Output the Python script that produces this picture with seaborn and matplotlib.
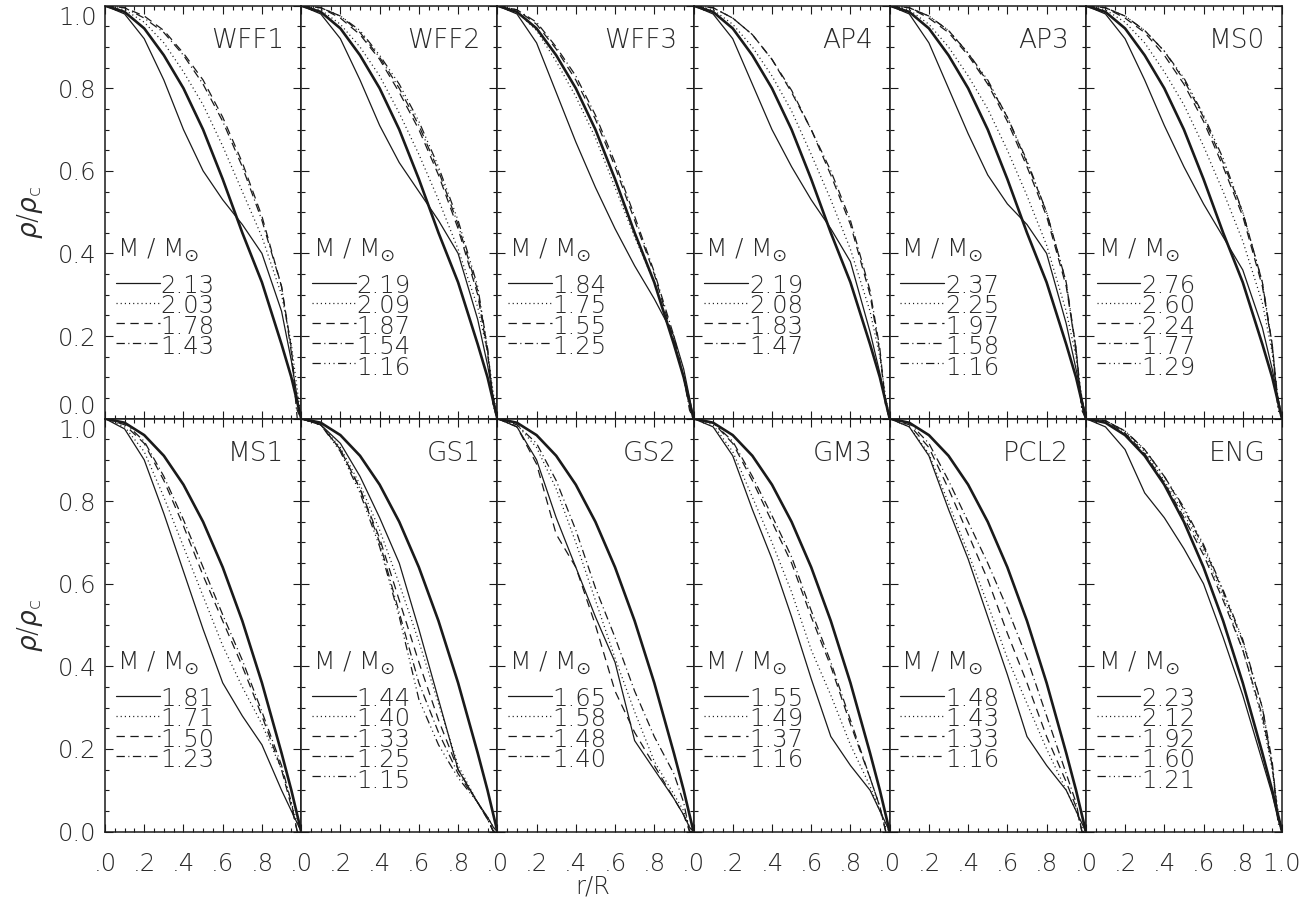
import matplotlib
matplotlib.use("Agg")
import seaborn as sns
from matplotlib import pyplot as plt
from matplotlib.ticker import MultipleLocator, FuncFormatter

# radial grid r/R shared by every curve
R = [0.0, 0.1, 0.2, 0.3, 0.4, 0.5, 0.6, 0.7, 0.8, 0.9, 0.95, 0.98, 1.0]

# heavy reference curves
ref_top = [1.0, 0.985, 0.945, 0.88, 0.80, 0.70, 0.58, 0.45, 0.33, 0.18, 0.10, 0.04, 0.0]
ref_bottom = [1.0, 0.99, 0.96, 0.91, 0.84, 0.75, 0.64, 0.51, 0.36, 0.19, 0.10, 0.04, 0.0]

wff1_mass = ["2.13", "2.03", "1.78", "1.43"]
wff1_rho = [
    [1.0, 0.98, 0.92, 0.82, 0.70, 0.60, 0.53, 0.47, 0.40, 0.26, 0.14, 0.05, 0.0],
    [1.0, 0.99, 0.96, 0.91, 0.84, 0.76, 0.66, 0.55, 0.44, 0.30, 0.18, 0.07, 0.0],
    [1.0, 0.995, 0.975, 0.94, 0.885, 0.82, 0.73, 0.62, 0.49, 0.32, 0.17, 0.02, 0.0],
    [1.0, 0.995, 0.97, 0.935, 0.88, 0.81, 0.72, 0.61, 0.48, 0.32, 0.16, 0.0, 0.0],
]

wff2_mass = ["2.19", "2.09", "1.87", "1.54", "1.16"]
wff2_rho = [
    [1.0, 0.98, 0.92, 0.82, 0.71, 0.62, 0.55, 0.48, 0.40, 0.24, 0.13, 0.05, 0.0],
    [1.0, 0.99, 0.955, 0.90, 0.83, 0.74, 0.64, 0.53, 0.41, 0.27, 0.16, 0.06, 0.0],
    [1.0, 0.995, 0.97, 0.93, 0.87, 0.79, 0.70, 0.59, 0.46, 0.30, 0.16, 0.03, 0.0],
    [1.0, 0.995, 0.975, 0.935, 0.875, 0.80, 0.71, 0.60, 0.47, 0.31, 0.17, 0.04, 0.0],
    [1.0, 0.995, 0.975, 0.94, 0.88, 0.81, 0.72, 0.61, 0.48, 0.32, 0.17, 0.03, 0.0],
]

wff3_mass = ["1.84", "1.75", "1.55", "1.25"]
wff3_rho = [
    [1.0, 0.98, 0.91, 0.79, 0.67, 0.56, 0.46, 0.37, 0.29, 0.20, 0.12, 0.05, 0.0],
    [1.0, 0.985, 0.94, 0.865, 0.78, 0.68, 0.56, 0.44, 0.33, 0.19, 0.10, 0.04, 0.0],
    [1.0, 0.99, 0.955, 0.895, 0.82, 0.725, 0.61, 0.48, 0.35, 0.19, 0.10, 0.03, 0.0],
    [1.0, 0.99, 0.96, 0.90, 0.83, 0.735, 0.62, 0.49, 0.355, 0.20, 0.10, 0.02, 0.0],
]

ap4_mass = ["2.19", "2.08", "1.83", "1.47"]
ap4_rho = [
    [1.0, 0.98, 0.92, 0.81, 0.70, 0.61, 0.53, 0.46, 0.38, 0.21, 0.11, 0.04, 0.0],
    [1.0, 0.99, 0.955, 0.90, 0.83, 0.745, 0.64, 0.53, 0.41, 0.26, 0.15, 0.05, 0.0],
    [1.0, 0.995, 0.97, 0.93, 0.87, 0.79, 0.70, 0.59, 0.47, 0.30, 0.16, 0.03, 0.0],
    [1.0, 0.995, 0.97, 0.93, 0.87, 0.795, 0.70, 0.60, 0.48, 0.31, 0.17, 0.03, 0.0],
]

ap3_mass = ["2.37", "2.25", "1.97", "1.58", "1.16"]
ap3_rho = [
    [1.0, 0.98, 0.91, 0.80, 0.69, 0.59, 0.52, 0.47, 0.40, 0.23, 0.12, 0.05, 0.0],
    [1.0, 0.99, 0.955, 0.90, 0.83, 0.75, 0.65, 0.54, 0.42, 0.26, 0.15, 0.05, 0.0],
    [1.0, 0.995, 0.97, 0.935, 0.88, 0.81, 0.72, 0.61, 0.49, 0.32, 0.17, 0.03, 0.0],
    [1.0, 0.995, 0.975, 0.94, 0.885, 0.815, 0.73, 0.62, 0.50, 0.33, 0.17, 0.02, 0.0],
    [1.0, 0.995, 0.975, 0.94, 0.885, 0.82, 0.73, 0.625, 0.50, 0.33, 0.16, 0.02, 0.0],
]

ms0_mass = ["2.76", "2.60", "2.24", "1.77", "1.29"]
ms0_rho = [
    [1.0, 0.98, 0.92, 0.82, 0.71, 0.61, 0.52, 0.44, 0.36, 0.22, 0.12, 0.05, 0.0],
    [1.0, 0.99, 0.96, 0.91, 0.84, 0.76, 0.66, 0.55, 0.43, 0.28, 0.16, 0.05, 0.0],
    [1.0, 0.995, 0.97, 0.935, 0.88, 0.81, 0.72, 0.61, 0.49, 0.32, 0.18, 0.04, 0.0],
    [1.0, 0.995, 0.975, 0.94, 0.89, 0.82, 0.73, 0.62, 0.50, 0.33, 0.18, 0.03, 0.0],
    [1.0, 0.995, 0.975, 0.94, 0.89, 0.825, 0.735, 0.63, 0.50, 0.33, 0.17, 0.02, 0.0],
]

ms1_mass = ["1.81", "1.71", "1.50", "1.23"]
ms1_rho = [
    [1.0, 0.975, 0.90, 0.77, 0.63, 0.49, 0.36, 0.28, 0.21, 0.10, 0.05, 0.02, 0.0],
    [1.0, 0.98, 0.92, 0.81, 0.69, 0.57, 0.45, 0.35, 0.26, 0.15, 0.07, 0.02, 0.0],
    [1.0, 0.985, 0.94, 0.85, 0.74, 0.62, 0.51, 0.40, 0.28, 0.15, 0.06, 0.0, 0.0],
    [1.0, 0.99, 0.945, 0.86, 0.755, 0.64, 0.525, 0.415, 0.29, 0.16, 0.07, 0.0, 0.0],
]

gs1_mass = ["1.44", "1.40", "1.33", "1.25", "1.15"]
gs1_rho = [
    [1.0, 0.985, 0.94, 0.86, 0.76, 0.65, 0.49, 0.32, 0.15, 0.07, 0.035, 0.01, 0.0],
    [1.0, 0.985, 0.93, 0.84, 0.73, 0.60, 0.46, 0.31, 0.16, 0.07, 0.035, 0.01, 0.0],
    [1.0, 0.985, 0.925, 0.83, 0.71, 0.56, 0.41, 0.27, 0.15, 0.07, 0.03, 0.0, 0.0],
    [1.0, 0.985, 0.925, 0.83, 0.70, 0.53, 0.36, 0.24, 0.14, 0.07, 0.03, 0.0, 0.0],
    [1.0, 0.985, 0.92, 0.82, 0.69, 0.52, 0.32, 0.21, 0.13, 0.07, 0.03, 0.0, 0.0],
]

gs2_mass = ["1.65", "1.58", "1.48", "1.40"]
gs2_rho = [
    [1.0, 0.98, 0.90, 0.76, 0.64, 0.52, 0.41, 0.22, 0.15, 0.08, 0.04, 0.01, 0.0],
    [1.0, 0.985, 0.93, 0.83, 0.70, 0.56, 0.42, 0.29, 0.17, 0.09, 0.05, 0.01, 0.0],
    [1.0, 0.98, 0.89, 0.72, 0.64, 0.50, 0.34, 0.24, 0.16, 0.08, 0.04, 0.0, 0.0],
    [1.0, 0.985, 0.94, 0.85, 0.73, 0.59, 0.47, 0.34, 0.23, 0.14, 0.07, 0.0, 0.0],
]

gm3_mass = ["1.55", "1.49", "1.37", "1.16"]
gm3_rho = [
    [1.0, 0.98, 0.91, 0.78, 0.66, 0.52, 0.37, 0.23, 0.16, 0.10, 0.05, 0.02, 0.0],
    [1.0, 0.985, 0.92, 0.81, 0.70, 0.58, 0.44, 0.33, 0.21, 0.11, 0.05, 0.01, 0.0],
    [1.0, 0.99, 0.94, 0.85, 0.75, 0.65, 0.52, 0.40, 0.26, 0.13, 0.06, 0.0, 0.0],
    [1.0, 0.99, 0.945, 0.86, 0.765, 0.665, 0.535, 0.41, 0.27, 0.13, 0.06, 0.0, 0.0],
]

pcl2_mass = ["1.48", "1.43", "1.33", "1.16"]
pcl2_rho = [
    [1.0, 0.98, 0.91, 0.78, 0.66, 0.52, 0.38, 0.23, 0.16, 0.10, 0.05, 0.02, 0.0],
    [1.0, 0.98, 0.915, 0.795, 0.675, 0.55, 0.42, 0.31, 0.20, 0.10, 0.05, 0.01, 0.0],
    [1.0, 0.985, 0.93, 0.83, 0.72, 0.61, 0.48, 0.36, 0.23, 0.12, 0.06, 0.0, 0.0],
    [1.0, 0.99, 0.94, 0.85, 0.75, 0.65, 0.54, 0.42, 0.28, 0.14, 0.07, 0.0, 0.0],
]

eng_mass = ["2.23", "2.12", "1.92", "1.60", "1.21"]
eng_rho = [
    [1.0, 0.98, 0.925, 0.82, 0.76, 0.685, 0.60, 0.47, 0.33, 0.17, 0.09, 0.03, 0.0],
    [1.0, 0.99, 0.965, 0.92, 0.85, 0.77, 0.68, 0.57, 0.44, 0.27, 0.15, 0.05, 0.0],
    [1.0, 0.995, 0.965, 0.915, 0.845, 0.76, 0.67, 0.56, 0.44, 0.28, 0.16, 0.03, 0.0],
    [1.0, 0.995, 0.97, 0.925, 0.86, 0.78, 0.69, 0.58, 0.46, 0.30, 0.17, 0.03, 0.0],
    [1.0, 0.995, 0.97, 0.925, 0.86, 0.785, 0.695, 0.585, 0.465, 0.30, 0.16, 0.02, 0.0],
]

panels = [
    ("WFF1", wff1_mass, wff1_rho, ref_top),
    ("WFF2", wff2_mass, wff2_rho, ref_top),
    ("WFF3", wff3_mass, wff3_rho, ref_top),
    ("AP4", ap4_mass, ap4_rho, ref_top),
    ("AP3", ap3_mass, ap3_rho, ref_top),
    ("MS0", ms0_mass, ms0_rho, ref_top),
    ("MS1", ms1_mass, ms1_rho, ref_bottom),
    ("GS1", gs1_mass, gs1_rho, ref_bottom),
    ("GS2", gs2_mass, gs2_rho, ref_bottom),
    ("GM3", gm3_mass, gm3_rho, ref_bottom),
    ("PCL2", pcl2_mass, pcl2_rho, ref_bottom),
    ("ENG", eng_mass, eng_rho, ref_bottom),
]

# solid, dotted, dashed, dash-dot, dash-dot-dot-dot
STYLES = [
    "-",
    (0, (0.8, 2.2)),
    (0, (6, 4)),
    (0, (6, 2.5, 0.8, 2.5)),
    (0, (6, 2.5, 0.8, 2.5, 0.8, 2.5, 0.8, 2.5)),
]

sns.set_theme(style="ticks")
plt.rcParams["font.family"] = ["DejaVu Sans"]
plt.rcParams["font.weight"] = "ultralight"
plt.rcParams["mathtext.fontset"] = "dejavusans"
plt.rcParams["lines.scale_dashes"] = False
plt.rcParams["axes.linewidth"] = 1.1

TXT = "#2a2a2a"
ROW_STEP = 0.0485  # legend row spacing, axes fraction

fig, axes = plt.subplots(2, 6, figsize=(13.14, 9.16), dpi=100)
fig.subplots_adjust(left=105 / 1314, right=1282 / 1314, top=1 - 5.7 / 916,
                    bottom=1 - 831.5 / 916, wspace=0, hspace=0)

for k, (name, masses, curves, ref) in enumerate(panels):
    row, col = divmod(k, 6)
    ax = axes[row, col]

    for i, rho in enumerate(curves):
        sns.lineplot(x=R, y=rho, ax=ax, color="k", lw=0.9, linestyle=STYLES[i],
                     sort=False, estimator=None)
        y = 0.328 - i * ROW_STEP
        ax.plot([0.055, 0.278], [y, y], transform=ax.transAxes, color="k",
                lw=0.9, linestyle=STYLES[i])

    sns.lineplot(x=R, y=ref, ax=ax, color="k", lw=1.9, sort=False, estimator=None)

    # mass column as one block so rows sit tight like the original
    ax.text(0.282, 0.351, "\n".join(masses), transform=ax.transAxes, fontsize=17.5,
            ha="left", va="top", linespacing=0.82, color=TXT)
    ax.text(0.06, 0.392, r"M / M$_{\odot}$", transform=ax.transAxes, fontsize=18,
            ha="left", va="baseline", color=TXT)
    ax.text(0.915, 0.897, name, transform=ax.transAxes, fontsize=19,
            ha="right", va="baseline", color=TXT)

    ax.set_xlim(0, 1)
    ax.set_ylim(0, 1)
    ax.set_xlabel("")
    ax.set_ylabel("")
    ax.xaxis.set_major_locator(MultipleLocator(0.2))
    ax.xaxis.set_minor_locator(MultipleLocator(0.05))
    ax.yaxis.set_major_locator(MultipleLocator(0.2))
    ax.yaxis.set_minor_locator(MultipleLocator(0.05))
    ax.tick_params(which="both", direction="in", top=True, right=True,
                   colors="k", labelcolor=TXT, width=0.8)
    ax.tick_params(which="major", length=5.5)
    ax.tick_params(which="minor", length=3)
    ax.tick_params(axis="y", labelsize=17.5, pad=6)
    ax.tick_params(axis="x", labelsize=17.5, pad=15)

    if row == 1:
        last = col == 5
        ax.xaxis.set_major_formatter(FuncFormatter(
            lambda v, p, last=last: ("1.0" if last else "") if v > 0.99 else f"{v:.1f}"[1:]))
    else:
        ax.tick_params(axis="x", labelbottom=False)

    if col == 0:
        ax.yaxis.set_major_formatter(FuncFormatter(lambda v, p: f"{v:.1f}"))
    else:
        ax.tick_params(axis="y", labelleft=False)

    for s in ax.spines.values():
        s.set_color("k")

for yc in (212, 625):
    fig.text(30 / 1314, 1 - yc / 916, r"$\rho/\rho_{\rm c}$", rotation=90,
             ha="center", va="center", fontsize=19, color=TXT)
fig.text(593 / 1314, 1 - 887 / 916, "r/R", ha="center", va="center",
         fontsize=17.5, color=TXT)

# labels that sit on a panel edge are nudged inside, as in the original:
# the top "1.0" hangs below the frame, and the "0.0"/"1.0" pair on the
# shared row boundary meet there instead of stacking
fig.canvas.draw()
for lab in axes[0, 0].get_yticklabels():
    if lab.get_text() == "0.0":
        lab.set_verticalalignment("bottom")
    elif lab.get_text() == "1.0":
        lab.set_verticalalignment("top")
for lab in axes[1, 0].get_yticklabels():
    if lab.get_text() == "1.0":
        lab.set_verticalalignment("top")

fig.savefig("out.png", dpi=100)
